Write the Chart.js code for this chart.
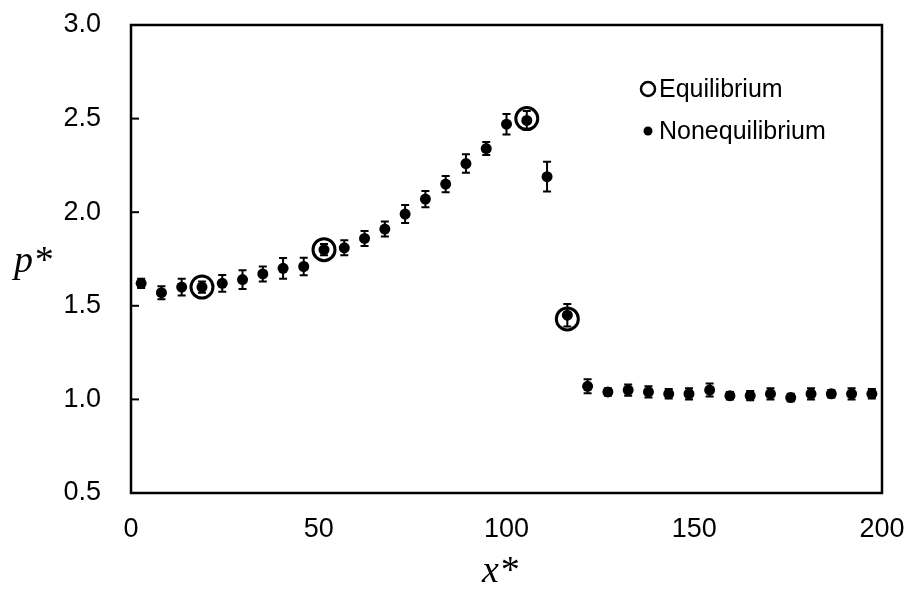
<!DOCTYPE html>
<html>
<head>
<meta charset="utf-8">
<script src="https://cdn.jsdelivr.net/npm/chart.js@4/dist/chart.umd.min.js"></script>
<style>
  html, body { margin: 0; padding: 0; background: #fff; }
  #wrap { width: 908px; height: 604px; position: relative; }
</style>
</head>
<body>
<div id="wrap"><canvas id="myChart"></canvas></div>
<script>
// Данные: позиции и значения p* (неравновесные точки)
const xValues = [2.7, 8.1, 13.5, 18.9, 24.3, 29.7, 35.1, 40.5, 46.0, 51.4, 56.8, 62.2, 67.6, 73.0, 78.4, 83.8, 89.2, 94.6, 100.0, 105.4, 110.8, 116.2, 121.6, 127.0, 132.4, 137.8, 143.2, 148.6, 154.1, 159.5, 164.9, 170.3, 175.7, 181.1, 186.5, 191.9, 197.3];
const pNoneq = [1.62, 1.57, 1.60, 1.60, 1.62, 1.64, 1.67, 1.70, 1.71, 1.80, 1.81, 1.86, 1.91, 1.99, 2.07, 2.15, 2.26, 2.34, 2.47, 2.49, 2.19, 1.45, 1.07, 1.04, 1.05, 1.04, 1.03, 1.03, 1.05, 1.02, 1.02, 1.03, 1.01, 1.03, 1.03, 1.03, 1.03];
const errNoneq = [0.025, 0.035, 0.045, 0.03, 0.045, 0.05, 0.04, 0.055, 0.047, 0.03, 0.04, 0.04, 0.04, 0.048, 0.043, 0.043, 0.049, 0.035, 0.055, 0.05, 0.08, 0.06, 0.037, 0.02, 0.03, 0.03, 0.025, 0.03, 0.035, 0.02, 0.025, 0.03, 0.02, 0.03, 0.02, 0.03, 0.025];

// Равновесные точки
const xEq = [18.9, 51.4, 105.4, 116.2];
const pEq = [1.60, 1.80, 2.50, 1.43];

// Деления осей
const xTicks = [0, 50, 100, 150, 200];
const yTicks = [0.5, 1.0, 1.5, 2.0, 2.5, 3.0];

const legendLabels = ['Equilibrium', 'Nonequilibrium'];

const tickFont = { family: '"Liberation Sans", Arial, sans-serif', size: 27 };

// Плагин: рамка, внутренние деления, планки погрешностей, подписи осей, легенда
const decorPlugin = {
    id: 'decor',
    beforeDatasetsDraw(chart) {
        const ctx = chart.ctx;
        const xs = chart.scales.x, ys = chart.scales.y;
        ctx.save();
        ctx.strokeStyle = '#000';
        ctx.lineWidth = 2;
        xValues.forEach((xv, i) => {
            const px = xs.getPixelForValue(xv);
            const top = ys.getPixelForValue(pNoneq[i] + errNoneq[i]);
            const bot = ys.getPixelForValue(pNoneq[i] - errNoneq[i]);
            ctx.beginPath();
            ctx.moveTo(px, top); ctx.lineTo(px, bot);
            ctx.moveTo(px - 4, top); ctx.lineTo(px + 4, top);
            ctx.moveTo(px - 4, bot); ctx.lineTo(px + 4, bot);
            ctx.stroke();
        });
        ctx.restore();
    },
    afterDraw(chart) {
        const ctx = chart.ctx;
        const a = chart.chartArea;
        const ys = chart.scales.y;
        ctx.save();
        ctx.strokeStyle = '#000';
        ctx.lineWidth = 2.5;
        ctx.strokeRect(a.left, a.top, a.right - a.left, a.bottom - a.top);
        ctx.lineWidth = 2;
        yTicks.forEach(v => {
            const py = ys.getPixelForValue(v);
            ctx.beginPath();
            ctx.moveTo(a.left, py); ctx.lineTo(a.left + 8, py);
            ctx.stroke();
        });

        // Подписи осей
        ctx.fillStyle = '#000';
        ctx.font = 'italic 38px "Liberation Serif", "DejaVu Serif", serif';
        ctx.textAlign = 'center';
        ctx.textBaseline = 'middle';
        ctx.fillText('p*', 33, 262);
        ctx.fillText('x*', 500, 572);

        // Легенда
        ctx.font = '25px "Liberation Sans", Arial, sans-serif';
        ctx.textAlign = 'left';
        ctx.lineWidth = 2.5;
        ctx.beginPath();
        ctx.arc(648, 89, 7, 0, Math.PI * 2);
        ctx.stroke();
        ctx.fillText(legendLabels[0], 659, 90);
        ctx.beginPath();
        ctx.arc(648, 131, 4.5, 0, Math.PI * 2);
        ctx.fill();
        ctx.fillText(legendLabels[1], 659, 132);
        ctx.restore();
    }
};

const ctx = document.getElementById('myChart').getContext('2d');
const myChart = new Chart(ctx, {
    type: 'scatter',
    data: {
        datasets: [
            {
                label: legendLabels[1],
                data: xValues.map((x, i) => ({ x: x, y: pNoneq[i] })),
                backgroundColor: '#000',
                borderColor: '#000',
                pointRadius: 5.5,
                borderWidth: 0
            },
            {
                label: legendLabels[0],
                data: xEq.map((x, i) => ({ x: x, y: pEq[i] })),
                backgroundColor: 'rgba(0,0,0,0)',
                borderColor: '#000',
                pointRadius: 11,
                borderWidth: 3
            }
        ]
    },
    options: {
        responsive: true,
        maintainAspectRatio: false,
        animation: false,
        layout: { padding: { top: 25, right: 26, left: 0, bottom: 0 } },
        plugins: {
            legend: { display: false },
            tooltip: { enabled: false }
        },
        scales: {
            x: {
                type: 'linear',
                min: 0,
                max: 200,
                afterFit: s => {
                    s.height = 111;
                    s.paddingLeft = 0;
                    s.paddingRight = 0;
                },
                afterBuildTicks: s => { s.ticks = xTicks.map(v => ({ value: v })); },
                grid: { display: false, drawTicks: false },
                border: { display: false },
                ticks: { font: tickFont, color: '#000', padding: 20, maxRotation: 0 }
            },
            y: {
                type: 'linear',
                min: 0.5,
                max: 3.0,
                afterFit: s => {
                    s.width = 131;
                    s.paddingTop = 0;
                    s.paddingBottom = 0;
                },
                afterBuildTicks: s => { s.ticks = yTicks.map(v => ({ value: v })); },
                grid: { display: false, drawTicks: false },
                border: { display: false },
                ticks: {
                    font: tickFont,
                    color: '#000',
                    padding: 30,
                    callback: v => Number(v).toFixed(1)
                }
            }
        }
    },
    plugins: [decorPlugin]
});
</script>
</body>
</html>
